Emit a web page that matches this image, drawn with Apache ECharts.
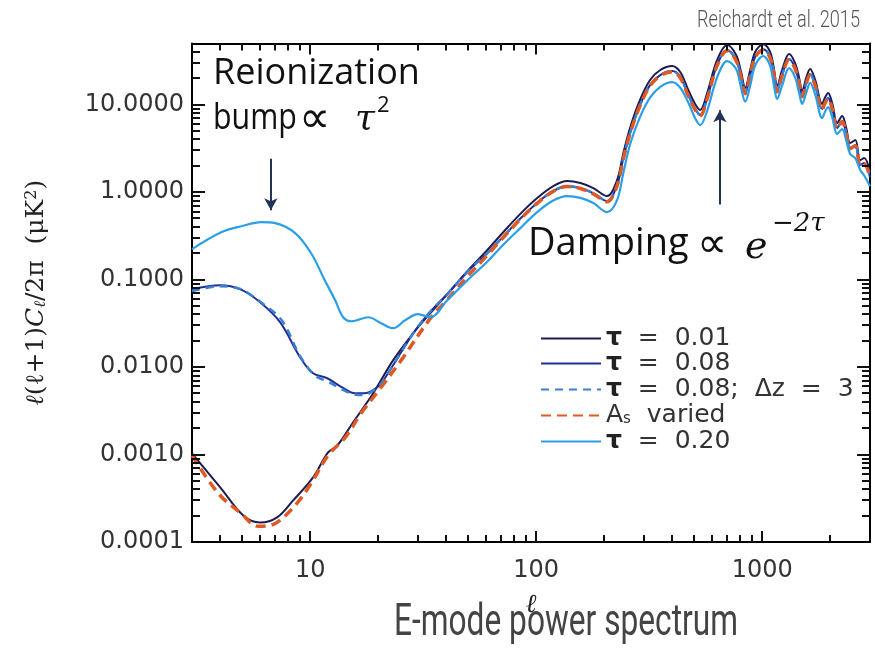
<!DOCTYPE html>
<html><head><meta charset="utf-8">
<script src="https://cdn.jsdelivr.net/npm/echarts@6/dist/echarts.min.js"></script>
<style>html,body{margin:0;padding:0;background:#fff}#c{width:875px;height:648px}</style>
</head><body><div id="c"></div>
<script>
// ---- axis ranges and tick values ----
const X_MIN = 3, X_MAX = 3000, Y_MIN = 0.0001, Y_MAX = 50;
const X_MAJOR = [10, 100, 1000];
const X_MINOR = [4,5,6,7,8,9,20,30,40,50,60,70,80,90,200,300,400,500,600,700,800,900,2000];
const Y_MAJOR = [0.001, 0.01, 0.1, 1, 10];
const Y_MINOR = [0.0002,0.0003,0.0004,0.0005,0.0006,0.0007,0.0008,0.0009,
  0.002,0.003,0.004,0.005,0.006,0.007,0.008,0.009,
  0.02,0.03,0.04,0.05,0.06,0.07,0.08,0.09,
  0.2,0.3,0.4,0.5,0.6,0.7,0.8,0.9,
  2,3,4,5,6,7,8,9,20,30,40];
const X_LABELS = [10, 100, 1000];
const Y_LABELS = [0.0001, 0.001, 0.01, 0.1, 1, 10];

// ---- data: multipole ell and l(l+1)C_l/2pi (uK^2) ----
const ELL_HI = [34.0, 40.4, 51.0, 60.7, 71.5, 84.9, 101, 119, 137, 157,
  179, 206, 228, 243, 261, 288, 319, 354, 400, 434,
  471, 505, 532, 571, 632, 700, 767, 807, 841, 885,
  931, 1010, 1084, 1130, 1164, 1225, 1315, 1399, 1458, 1503,
  1566, 1630, 1717, 1841, 1901, 1958, 2041, 2148, 2259, 2355,
  2451, 2582, 2716, 2827, 3000];

// tau = 0.01
const TAU001_LO_ELL = [3.0, 4.0, 5.06, 6.0, 7.14, 8.41, 10.3, 12.0, 13.2, 15.5, 19.0, 23.3, 28.6];
const TAU001_LO = [0.00103, 0.000422, 0.000201, 0.000167, 0.000191, 0.000299, 0.000548, 0.00106, 0.00127, 0.00234, 0.00501, 0.0120, 0.0244];
const TAU001_HI = [0.0413, 0.0683, 0.135, 0.217, 0.348, 0.56, 0.854, 1.17, 1.34, 1.27,
  1.11, 0.900, 1.37, 2.79, 5.54, 11.3, 19.1, 24.9, 27.7, 23.6,
  14.7, 10.2, 8.67, 13.6, 32.4, 48.1, 37.0, 23.6, 15.5, 24.9,
  40.0, 49.0, 40.0, 24.9, 16.3, 24.9, 37.9, 29.9, 20.2, 14.3,
  20.2, 25.5, 19.1, 10.2, 12.2, 13.6, 10.4, 6.16, 7.41, 5.40,
  3.64, 3.94, 2.32, 2.45, 1.69];

// tau = 0.08
const TAU008_LO_ELL = [3.0, 4.0, 4.9, 6.0, 7.36, 9.03, 10.3, 11.9, 13.6, 15.8, 17.2, 20.0, 22.1, 28.6];
const TAU008_LO = [0.0777, 0.0863, 0.0777, 0.0551, 0.0326, 0.0129, 0.00849, 0.00745, 0.00603, 0.00501, 0.00501, 0.0060, 0.0085, 0.0244];
const TAU008_HI = [0.043, 0.068, 0.132, 0.200, 0.31, 0.495, 0.75, 1.03, 1.17, 1.11,
  0.97, 0.79, 1.20, 2.44, 4.85, 9.9, 16.7, 21.8, 24.2, 20.7,
  12.9, 8.95, 7.6, 11.9, 28.4, 42.2, 32.4, 20.7, 13.6, 21.8,
  35.0, 42.9, 35.0, 21.8, 14.3, 21.8, 33.2, 26.2, 17.7, 12.5,
  17.7, 22.3, 16.7, 8.95, 10.7, 11.9, 9.1, 5.4, 6.5, 4.73,
  3.19, 3.45, 2.04, 2.15, 1.48];

// tau = 0.08, delta z = 3
const TAU008DZ_LO_ELL = [3.0, 4.0, 4.9, 6.0, 7.5, 9.0, 10.5, 12.0, 13.6, 15.5, 17.2, 20.0, 22.1, 28.6];
const TAU008DZ_LO = [0.074, 0.084, 0.078, 0.056, 0.034, 0.0135, 0.0080, 0.0068, 0.0057, 0.0049, 0.0048, 0.0060, 0.0085, 0.0244];
const TAU008DZ_HI = [0.043, 0.068, 0.132, 0.200, 0.31, 0.495, 0.75, 1.03, 1.17, 1.11,
  0.97, 0.79, 1.20, 2.44, 4.85, 9.9, 16.7, 21.8, 24.2, 20.7,
  12.9, 8.95, 7.6, 11.9, 28.4, 42.2, 32.4, 20.7, 13.6, 21.8,
  35.0, 42.9, 35.0, 21.8, 14.3, 21.8, 33.2, 26.2, 17.7, 12.5,
  17.7, 22.3, 16.7, 8.95, 10.7, 11.9, 9.1, 5.4, 6.5, 4.73,
  3.19, 3.45, 2.04, 2.15, 1.48];

// A_s varied
const ASV_LO_ELL = [3.0, 3.92, 4.95, 5.89, 7.0, 8.58, 10.1, 12.0, 14.3, 16.8, 20.6, 25.3];
const ASV_LO = [0.000979, 0.000360, 0.000212, 0.000151, 0.000163, 0.000262, 0.000468, 0.000979, 0.00157, 0.00296, 0.00587, 0.0120];
const ASV_HI = [0.036, 0.059, 0.117, 0.189, 0.303, 0.487, 0.743, 1.02, 1.16, 1.10,
  0.955, 0.774, 1.18, 2.40, 4.76, 9.72, 16.4, 21.4, 23.8, 20.3,
  12.6, 8.77, 7.46, 11.7, 27.9, 41.4, 31.8, 20.3, 13.3, 21.4,
  34.4, 42.1, 34.4, 21.4, 14.0, 21.4, 32.6, 25.7, 17.4, 12.3,
  17.4, 21.9, 16.4, 8.77, 10.5, 11.7, 8.94, 5.30, 6.37, 4.64,
  3.13, 3.39, 2.00, 2.11, 1.45];

// tau = 0.20
const TAU020_LO_ELL = [3.0, 4.04, 5.0, 6.07, 7.0, 8.58, 10.1, 11.6, 12.9, 14.0, 15.2, 18.1, 20.6, 23.3, 26.3, 30.0];
const TAU020_LO = [0.223, 0.348, 0.41, 0.454, 0.442, 0.340, 0.200, 0.0984, 0.0581, 0.0371, 0.0334, 0.0371, 0.0317, 0.0278, 0.0343, 0.0402];
const TAU020_HI = [0.037, 0.058, 0.105, 0.160, 0.25, 0.385, 0.59, 0.80, 0.90, 0.86,
  0.75, 0.59, 0.81, 1.65, 3.6, 7.21, 12.0, 16.0, 18.1, 15.6,
  10.6, 7.0, 5.84, 8.5, 20.5, 31.5, 25.5, 15.5, 10.8, 16.5,
  28.0, 36.0, 28.0, 16.0, 11.6, 16.5, 26.2, 20.5, 13.5, 10.2,
  13.6, 17.7, 13.0, 7.03, 8.4, 9.39, 7.2, 4.61, 5.26, 3.9,
  2.72, 2.45, 1.79, 1.55, 1.17];

function pairs(ellLo, valLo, ellHi, valHi) {
  const out = ellLo.map((l, i) => [l, valLo[i]]);
  ellHi.forEach((l, i) => out.push([l, valHi[i]]));
  return out;
}

const chart = echarts.init(document.getElementById('c'), null, {renderer: 'canvas'});
const TICK_FONT = "'DejaVu Sans', sans-serif";
const SERIF = "'DejaVu Serif', serif";

const arrowStyle = {color: '#22335a', width: 2, type: 'solid'};
const lineSeries = (name, color, width, type, lo, loV, hiV, z) => ({
  name, type: 'line', showSymbol: false, symbol: 'none', smooth: 0.35,
  lineStyle: {color, width, type}, itemStyle: {color}, z,
  data: pairs(lo, loV, ELL_HI, hiV)
});

const s5 = lineSeries('tau020', '#2a9fe8', 2.2, 'solid', TAU020_LO_ELL, TAU020_LO, TAU020_HI, 6);
s5.markLine = {silent: true, symbol: ['none', 'arrow'], symbolSize: [10, 12], label: {show: false},
  lineStyle: arrowStyle,
  data: [
    [{coord: [6.7, 2.4]}, {coord: [6.7, 0.62]}],
    [{coord: [650, 0.72]}, {coord: [650, 8.6]}]
  ]};

const LEGEND_NAMES = ['tau001', 'tau008', 'tau008dz', 'asv', 'tau020'];
const LEGEND_TEXT = {
  'tau001': '{t|τ}{n|  =  0.01}',
  'tau008': '{t|τ}{n|  =  0.08}',
  'tau008dz': '{t|τ}{n|  =  0.08;  Δz  =  3}',
  'asv': '{n|A}{s|s}{n|  varied}',
  'tau020': '{t|τ}{n|  =  0.20}'
};
const legendTop = [321, 346, 372, 398, 424];
const legends = LEGEND_NAMES.map((nm, i) => ({
  orient: 'vertical', left: 535, top: legendTop[i], itemWidth: 60, itemHeight: 12, itemGap: 0,
  itemStyle: {opacity: 0}, selectedMode: false,
  textStyle: {fontFamily: TICK_FONT, fontSize: 25, color: '#333', lineHeight: 22,
    rich: {
      t: {fontFamily: TICK_FONT, fontWeight: 'bold', fontSize: 25, color: '#222', lineHeight: 22},
      n: {fontFamily: TICK_FONT, fontSize: 25, color: '#333', lineHeight: 22},
      s: {fontFamily: TICK_FONT, fontSize: 15, color: '#333', lineHeight: 22, verticalAlign: 'bottom'}
    }},
  formatter: name => LEGEND_TEXT[name],
  data: [nm]
}));

const baseGraphic = [
  {type: 'text', x: 697, y: 21, scaleX: 0.79, style: {text: 'Reichardt et al. 2015', fill: '#555',
    font: "300 23px Roboto", textVerticalAlign: 'middle'}},
  {type: 'text', x: 213, y: 74, style: {text: 'Reionization', fill: '#111',
    font: "36px 'Open Sans'", textVerticalAlign: 'middle'}},
  {type: 'text', x: 213, y: 118, scaleX: 0.82, style: {text: 'bump', fill: '#111',
    font: "37px 'Open Sans'", textVerticalAlign: 'middle'}},
  {type: 'text', x: 299, y: 121, style: {text: '∝', fill: '#111',
    font: "44px 'DejaVu Sans'", textVerticalAlign: 'middle'}},
  {type: 'text', x: 355, y: 120, style: {text: 'τ', fill: '#111',
    font: "italic 36px 'DejaVu Serif'", textVerticalAlign: 'middle'}},
  {type: 'text', x: 377, y: 106, style: {text: '2', fill: '#111',
    font: "22px 'Open Sans'", textVerticalAlign: 'middle'}},
  {type: 'text', x: 528, y: 244, style: {text: 'Damping', fill: '#111',
    font: "38px 'Open Sans'", textVerticalAlign: 'middle'}},
  {type: 'text', x: 697, y: 246, style: {text: '∝', fill: '#111',
    font: "42px 'DejaVu Sans'", textVerticalAlign: 'middle'}},
  {type: 'text', x: 745, y: 248, style: {text: 'e', fill: '#111',
    font: "italic 38px 'DejaVu Serif'", textVerticalAlign: 'middle'}},
  {type: 'text', x: 772, y: 224, style: {text: '−2τ', fill: '#111',
    font: "italic 26px 'DejaVu Serif'", textVerticalAlign: 'middle'}},
  {type: 'text', x: 566, y: 624, scaleX: 0.72, style: {text: 'E-mode power spectrum', fill: '#444',
    font: "44px Roboto", textAlign: 'center', textVerticalAlign: 'middle'}}
];

const option = {
  animation: false,
  backgroundColor: '#fff',
  grid: {left: 192, right: 5, top: 43.5, bottom: 106, containLabel: false},
  xAxis: [
    {type: 'log', logBase: 10, min: X_MIN, max: X_MAX, position: 'bottom',
     axisLine: {show: true, onZero: false, lineStyle: {color: '#000', width: 2}},
     axisTick: {show: false}, splitLine: {show: false}, minorTick: {show: false},
     axisLabel: {customValues: X_LABELS, margin: 17, formatter: v => String(Math.round(v)),
       color: '#333', fontSize: 24, fontFamily: TICK_FONT},
     name: 'ℓ', nameLocation: 'middle', nameGap: 50,
     nameTextStyle: {fontFamily: SERIF, fontStyle: 'italic', fontSize: 26, color: '#222'}},
    {type: 'log', logBase: 10, min: X_MIN, max: X_MAX, position: 'top',
     axisLine: {show: true, onZero: false, lineStyle: {color: '#000', width: 2}},
     axisTick: {show: false}, axisLabel: {show: false}, splitLine: {show: false}}
  ],
  yAxis: [
    {type: 'log', logBase: 10, min: Y_MIN, max: Y_MAX, position: 'left',
     axisLine: {show: true, onZero: false, lineStyle: {color: '#000', width: 2}},
     axisTick: {show: false}, splitLine: {show: false}, minorTick: {show: false},
     axisLabel: {customValues: Y_LABELS, margin: 8, formatter: v => Number(v).toFixed(4),
       color: '#333', fontSize: 24, fontFamily: TICK_FONT},
     name: '{i|ℓ}{n|(ℓ+1)}{i|C}{s|ℓ}{n|/2π  (μK}{p|2}{n|)}',
     nameLocation: 'middle', nameGap: 143, nameRotate: 90,
     nameTextStyle: {fontFamily: SERIF, fontSize: 25, color: '#222',
       rich: {
         n: {fontFamily: SERIF, fontSize: 25, color: '#222'},
         i: {fontFamily: SERIF, fontStyle: 'italic', fontSize: 25, color: '#222'},
         s: {fontFamily: SERIF, fontStyle: 'italic', fontSize: 16, color: '#222', verticalAlign: 'bottom'},
         p: {fontFamily: SERIF, fontSize: 16, color: '#222', verticalAlign: 'top'}
       }}},
    {type: 'log', logBase: 10, min: Y_MIN, max: Y_MAX, position: 'right',
     axisLine: {show: true, onZero: false, lineStyle: {color: '#000', width: 2}},
     axisTick: {show: false}, axisLabel: {show: false}, splitLine: {show: false}}
  ],
  legend: legends,
  series: [
    lineSeries('tau001', '#1c1c54', 2, 'solid', TAU001_LO_ELL, TAU001_LO, TAU001_HI, 2),
    lineSeries('tau008', '#1f2f96', 2, 'solid', TAU008_LO_ELL, TAU008_LO, TAU008_HI, 3),
    lineSeries('tau008dz', '#3a7fd0', 2.5, [8, 6], TAU008DZ_LO_ELL, TAU008DZ_LO, TAU008DZ_HI, 4),
    lineSeries('asv', '#de5a22', 3.5, [10, 6], ASV_LO_ELL, ASV_LO, ASV_HI, 5),
    s5
  ],
  graphic: baseGraphic
};
chart.setOption(option);

// inward tick marks on all four sides, positioned through the log axes' own scale
const finder = {xAxisIndex: 0, yAxisIndex: 0};
const tickEls = [];
const tickStyle = {stroke: '#111', lineWidth: 2};
function addXTicks(vals, len) {
  vals.forEach(v => {
    const pb = chart.convertToPixel(finder, [v, Y_MIN]);
    const pt = chart.convertToPixel(finder, [v, Y_MAX]);
    const x = Math.round(pb[0]);
    tickEls.push({type: 'line', silent: true, z: 50, shape: {x1: x, y1: pb[1], x2: x, y2: pb[1] - len}, style: tickStyle});
    tickEls.push({type: 'line', silent: true, z: 50, shape: {x1: x, y1: pt[1], x2: x, y2: pt[1] + len}, style: tickStyle});
  });
}
function addYTicks(vals, len) {
  vals.forEach(v => {
    const pl = chart.convertToPixel(finder, [X_MIN, v]);
    const pr = chart.convertToPixel(finder, [X_MAX, v]);
    const y = Math.round(pl[1]);
    tickEls.push({type: 'line', silent: true, z: 50, shape: {x1: pl[0], y1: y, x2: pl[0] + len, y2: y}, style: tickStyle});
    tickEls.push({type: 'line', silent: true, z: 50, shape: {x1: pr[0], y1: y, x2: pr[0] - len, y2: y}, style: tickStyle});
  });
}
addXTicks(X_MAJOR, 11); addXTicks(X_MINOR, 7);
addYTicks(Y_MAJOR, 13); addYTicks(Y_MINOR, 8);
chart.setOption({graphic: baseGraphic.concat(tickEls)});
</script>
</body></html>
